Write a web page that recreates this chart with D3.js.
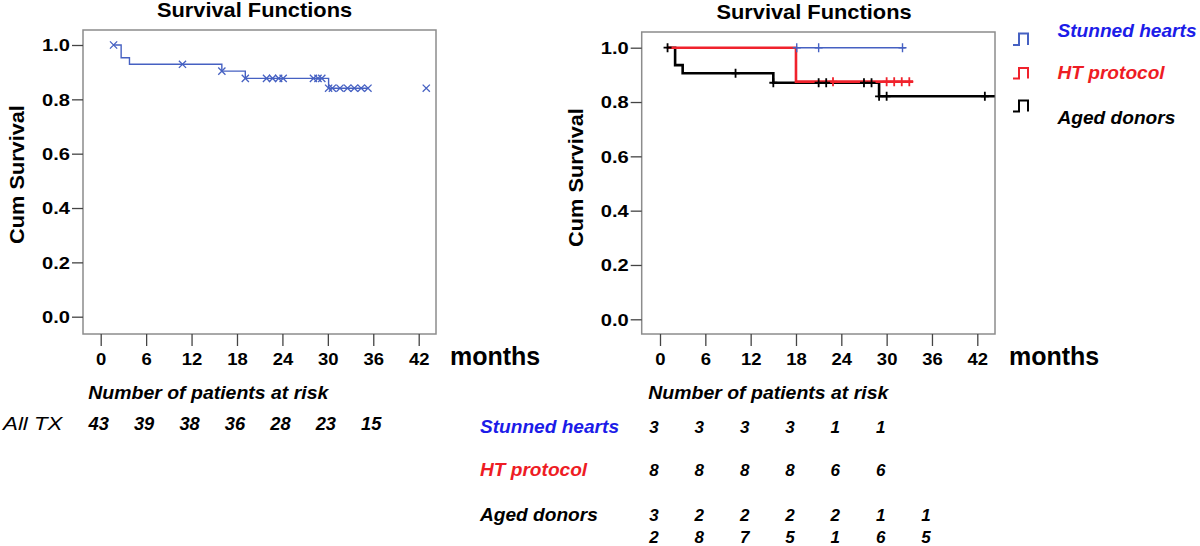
<!DOCTYPE html>
<html>
<head>
<meta charset="utf-8">
<script src="https://cdn.jsdelivr.net/npm/d3@7"></script>
<style>
  html, body { margin: 0; padding: 0; background: #fff; }
  svg { display: block; font-family: "Liberation Sans", Arial, sans-serif; }
</style>
</head>
<body>
<svg id="chart" width="1200" height="546"></svg>
<script>
// ---------------- DATA ----------------
const monthTicks = [0, 6, 12, 18, 24, 30, 36, 42];
const survTicks = [0.0, 0.2, 0.4, 0.6, 0.8, 1.0];

// Left: all transplants (step function + censored)
const allTxTimes = [1.7, 2.7, 3.8, 16.0, 19.1, 30.1, 35.3];
const allTxSurv = [1.0, 0.953, 0.929, 0.904, 0.877, 0.841, 0.841];
const allTxCensored = [1.7, 10.8, 16.0, 19.1, 21.9, 22.7, 23.5, 24.1, 28.1, 28.7, 29.2, 30.1, 30.6, 31.6, 32.6, 33.5, 34.4, 35.3, 43.0];

// Right: three groups
const stunnedTimes = [0.9, 32.5];
const stunnedSurv = [1.0, 1.0];
const stunnedCensored = [18.1, 21.0, 32.1];

const htTimes = [0.9, 18.0, 33.5];
const htSurv = [1.0, 0.875, 0.875];
const htCensored = [22.9, 30.0, 31.0, 32.0, 33.0];

const agedTimes = [1.0, 2.0, 3.0, 15.0, 29.0, 44.3];
const agedSurv = [1.0, 0.936, 0.906, 0.871, 0.821, 0.821];
const agedCensored = [1.0, 10.0, 15.0, 21.0, 22.0, 27.0, 28.0, 29.0, 30.0, 43.0];

// Number at risk
const allTxRiskLabel = "All TX";
const allTxAtRisk = [43, 39, 38, 36, 28, 23, 15];
const riskMonths = [0, 6, 12, 18, 24, 30, 36];
const groupNames = ["Stunned hearts", "HT protocol", "Aged donors"];
const stunnedAtRisk = [3, 3, 3, 3, 1, 1];
const htAtRisk = [8, 8, 8, 8, 6, 6];
const agedAtRisk = [32, 28, 27, 25, 21, 16, 15];

// ---------------- STYLE ----------------
const FONT = '"Liberation Sans", Arial, sans-serif';
const blueLine = "#4661c2";
const redLine = "#f0222c";
const blackLine = "#000000";
const blueText = "#1c1ce8";
const redText = "#ee1c24";

const svg = d3.select("#chart");

function txt(parent, x, y, s, o = {}) {
  const t = parent.append("text")
    .attr("transform", `translate(${x},${y})` + (o.rotate ? ` rotate(${o.rotate})` : "") + ` scale(${o.sx || 1},1)`)
    .attr("font-family", FONT)
    .attr("font-size", o.size || 16)
    .attr("font-weight", o.weight || "bold")
    .attr("font-style", o.italic ? "italic" : "normal")
    .attr("text-anchor", o.anchor || "start")
    .attr("fill", o.fill || "#000")
    .text(s);
  return t;
}

function stepAt(times, surv, t) {
  let v = surv[0];
  for (let i = 0; i < times.length; i++) if (times[i] <= t + 1e-9) v = surv[i];
  return v;
}

function makePanel(cfg) {
  const x = d3.scaleLinear().domain([0, 42]).range([cfg.x0, cfg.x42]);
  const y = d3.scaleLinear().domain([0, 1]).range([cfg.y0, cfg.y1]);
  const g = svg.append("g");

  // frame
  g.append("rect")
    .attr("x", cfg.fx0).attr("y", cfg.fy0)
    .attr("width", cfg.fx1 - cfg.fx0).attr("height", cfg.fy1 - cfg.fy0)
    .attr("fill", "none").attr("stroke", "#8c8c8c").attr("stroke-width", 1.5);

  // y axis
  const ya = g.append("g").attr("transform", `translate(${cfg.fx0},0)`)
    .call(d3.axisLeft(y).tickValues(survTicks).tickFormat(d3.format(".1f")).tickSize(11).tickPadding(3));
  ya.select(".domain").remove();
  ya.selectAll(".tick line").attr("stroke", "#444").attr("stroke-width", 1.3);
  ya.selectAll(".tick text").each(function () {
    const el = d3.select(this);
    el.attr("x", null).attr("dy", "0.36em")
      .attr("transform", "translate(-13,0) scale(1.22,1)")
      .attr("font-family", FONT).attr("font-size", 16.5).attr("font-weight", "bold").attr("fill", "#000");
  });

  // x axis
  const xa = g.append("g").attr("transform", `translate(0,${cfg.fy1})`)
    .call(d3.axisBottom(x).tickValues(monthTicks).tickSize(12).tickPadding(3));
  xa.select(".domain").remove();
  xa.selectAll(".tick line").attr("stroke", "#444").attr("stroke-width", 1.3);
  xa.selectAll(".tick text").each(function () {
    const el = d3.select(this);
    el.attr("y", null).attr("dy", null)
      .attr("transform", "translate(0,31) scale(1.12,1)")
      .attr("font-family", FONT).attr("font-size", 16.5).attr("font-weight", "bold").attr("fill", "#000");
  });

  // title
  txt(g, cfg.titleX, cfg.titleY, "Survival Functions", { size: 19.5, anchor: "middle", sx: 1.12 });
  // y label
  txt(g, cfg.ylabX, cfg.ylabY, "Cum Survival", { size: 20.5, anchor: "middle", rotate: -90, sx: 1.06 });
  // months
  txt(g, cfg.monthsX, 365, "months", { size: 25 });

  return { g, x, y };
}

function drawSeries(p, times, surv, censored, color, width, mark) {
  const line = d3.line().x(d => p.x(d[0])).y(d => p.y(d[1])).curve(d3.curveStepAfter);
  const pts = times.map((t, i) => [t, surv[i]]);
  p.g.append("path").attr("d", line(pts)).attr("fill", "none")
    .attr("stroke", color).attr("stroke-width", width);
  return () => {
    const cg = p.g.append("g").attr("stroke", color).attr("fill", "none");
    censored.forEach(t => {
      const cx = p.x(t), cy = p.y(stepAt(times, surv, t));
      if (mark === "x") {
        const r = 3.6;
        cg.append("path").attr("d", `M${cx - r},${cy - r}L${cx + r},${cy + r}M${cx - r},${cy + r}L${cx + r},${cy - r}`)
          .attr("stroke-width", 1.3);
      } else {
        cg.append("path").attr("d", `M${cx},${cy - 4.5}L${cx},${cy + 4.5}M${cx - 4},${cy}L${cx + 4},${cy}`)
          .attr("stroke-width", width > 2 ? 1.8 : 1.4);
      }
    });
  };
}

// ---------------- LEFT PANEL ----------------
const L = makePanel({
  x0: 100.7, x42: 418.7, y0: 316.7, y1: 45,
  fx0: 83, fx1: 436, fy0: 30, fy1: 334,
  titleX: 254.5, titleY: 17, ylabX: 24, ylabY: 174.5, monthsX: 450
});
drawSeries(L, allTxTimes, allTxSurv, allTxCensored, blueLine, 1.4, "x")();

// ---------------- RIGHT PANEL ----------------
const R = makePanel({
  x0: 660, x42: 977.3, y0: 319.3, y1: 47.7,
  fx0: 641.7, fx1: 995, fy0: 32, fy1: 334,
  titleX: 814, titleY: 19, ylabX: 583, ylabY: 177.5, monthsX: 1009
});
const cBlue = drawSeries(R, stunnedTimes, stunnedSurv, stunnedCensored, blueLine, 1.6, "+");
const cBlack = drawSeries(R, agedTimes, agedSurv, agedCensored, blackLine, 2.6, "+");
const cRed = drawSeries(R, htTimes, htSurv, htCensored, redLine, 2.6, "+");
cBlue(); cRed(); cBlack();

// ---------------- LEGEND ----------------
const legendColors = [blueLine, redLine, blackLine];
const legendTextColors = [blueText, redText, "#000"];
const legendIconY = [[33.5, 45], [68, 78.5], [100.5, 111.5]];
const legendTextY = [37, 79, 124];
const lg = svg.append("g");
groupNames.forEach((name, i) => {
  const [t, b] = legendIconY[i];
  lg.append("path")
    .attr("d", `M1013,${b}H1019V${t}H1028V${b}`)
    .attr("fill", "none").attr("stroke", legendColors[i]).attr("stroke-width", 2);
  txt(lg, 1057.5, legendTextY[i], name, { size: 17.7, italic: true, fill: legendTextColors[i], sx: 1.08 });
});

// ---------------- AT-RISK TABLES ----------------
const tl = svg.append("g");
txt(tl, 88.3, 399, "Number of patients at risk", { size: 17.7, italic: true, sx: 1.1 });
txt(tl, 3, 430, allTxRiskLabel, { size: 18.6, italic: true, weight: "normal", sx: 1.2 });
allTxAtRisk.forEach((n, i) => {
  txt(tl, L.x(riskMonths[i]) - 2, 430, String(n), { size: 18.3, italic: true, anchor: "middle" });
});

const tr = svg.append("g");
txt(tr, 648.3, 399, "Number of patients at risk", { size: 17.7, italic: true, sx: 1.1 });
const rowY = [433, 476, 521];
const rowColors = [blueText, redText, "#000"];
groupNames.forEach((name, i) => {
  txt(tr, 480, rowY[i], name, { size: 17.7, italic: true, fill: rowColors[i], sx: 1.08 });
});
const colX = t => R.x(t) - 6;
stunnedAtRisk.forEach((n, i) => txt(tr, colX(riskMonths[i]), rowY[0], String(n), { size: 17, italic: true, anchor: "middle" }));
htAtRisk.forEach((n, i) => txt(tr, colX(riskMonths[i]), rowY[1], String(n), { size: 17, italic: true, anchor: "middle" }));
agedAtRisk.forEach((n, i) => {
  const s = String(n);
  txt(tr, colX(riskMonths[i]), rowY[2], s[0], { size: 17, italic: true, anchor: "middle" });
  txt(tr, colX(riskMonths[i]), 543, s.slice(1), { size: 17, italic: true, anchor: "middle" });
});
</script>
</body>
</html>
